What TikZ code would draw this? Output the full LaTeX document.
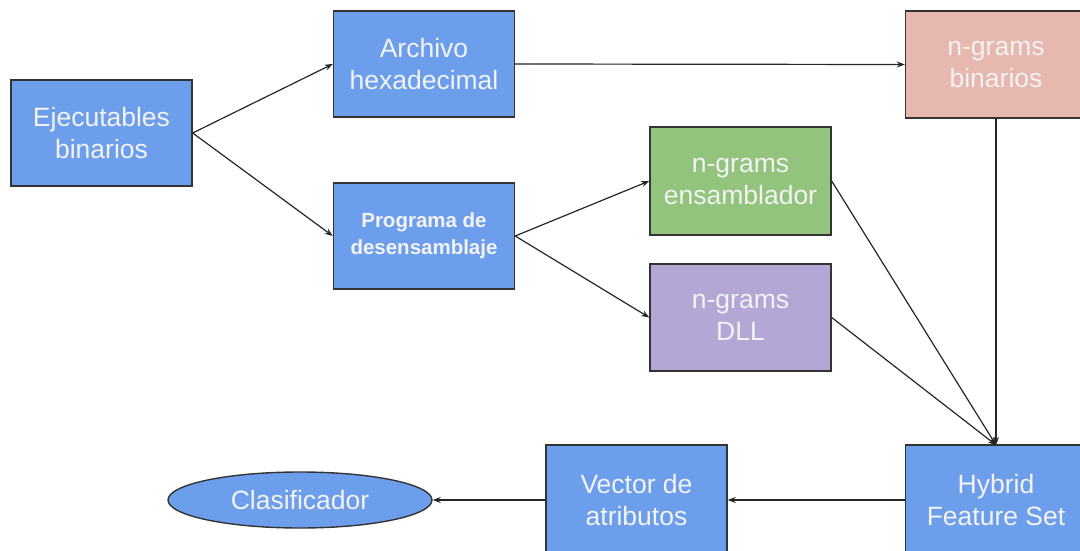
\documentclass[tikz,border=0pt]{standalone}
\usepackage{fontspec}
\setmainfont{Liberation Sans}
\usetikzlibrary{arrows.meta,shapes.geometric}
\definecolor{boxblue}{HTML}{6D9EEB}
\definecolor{boxpink}{HTML}{E6B8AF}
\definecolor{boxgreen}{HTML}{93C47D}
\definecolor{boxpurple}{HTML}{B4A7D6}
\definecolor{edge}{HTML}{333333}
\definecolor{txt}{HTML}{F3F3F3}
\tikzset{
  box/.style={draw=edge, line width=1.4pt, fill=boxblue, minimum width=181pt, minimum height=106pt,
    inner sep=0pt, align=center, text=txt, font=\fontsize{26.5}{32}\selectfont},
  conn/.style={draw=black!85, line width=1.2pt, -{Stealth[length=8pt,width=6pt]}}
}
\begin{document}
\begin{tikzpicture}[x=1pt,y=-1pt]
\useasboundingbox (0,0) rectangle (1080,551);
\node[box] (ejec) at (101.5,133) {Ejecutables\\binarios};
\node[box] (arch) at (424,64) {Archivo\\hexadecimal};
\node[box, font=\fontsize{20.5}{27}\selectfont\bfseries] (prog) at (424,236) {Programa de\\desensamblaje};
\node[box, fill=boxpink, minimum height=107pt] (nbin) at (996,64.5) {n-grams\\binarios};
\node[box, fill=boxgreen, minimum height=108pt] (nens) at (740.5,181) {n-grams\\ensamblador};
\node[box, fill=boxpurple, minimum height=107pt] (ndll) at (740.5,317.5) {n-grams\\DLL};
\node[box, minimum height=110pt] (hyb) at (996,500) {Hybrid\\Feature Set};
\node[box, minimum height=110pt] (vec) at (636.5,500) {Vector de\\atributos};
\node[ellipse, draw=edge, line width=1.4pt, fill=boxblue, minimum width=264pt, minimum height=56pt,
  inner sep=0pt, text=txt, font=\fontsize{26.5}{32}\selectfont] (clas) at (300,500) {Clasificador};
\coordinate (hybtop) at (996,445);
\draw[conn] (ejec.east) -- (arch.west);
\draw[conn] (ejec.east) -- (prog.west);
\draw[conn] (arch.east) -- (nbin.west);
\draw[conn] (prog.east) -- (nens.west);
\draw[conn] (prog.east) -- (ndll.west);
\draw[conn] (nens.east) -- (hybtop);
\draw[conn] (ndll.east) -- (hybtop);
\draw[conn] (nbin.south) -- (hybtop);
\draw[conn] (hyb.west) -- (vec.east);
\draw[conn] (vec.west) -- (clas.east);
\end{tikzpicture}
\end{document}
